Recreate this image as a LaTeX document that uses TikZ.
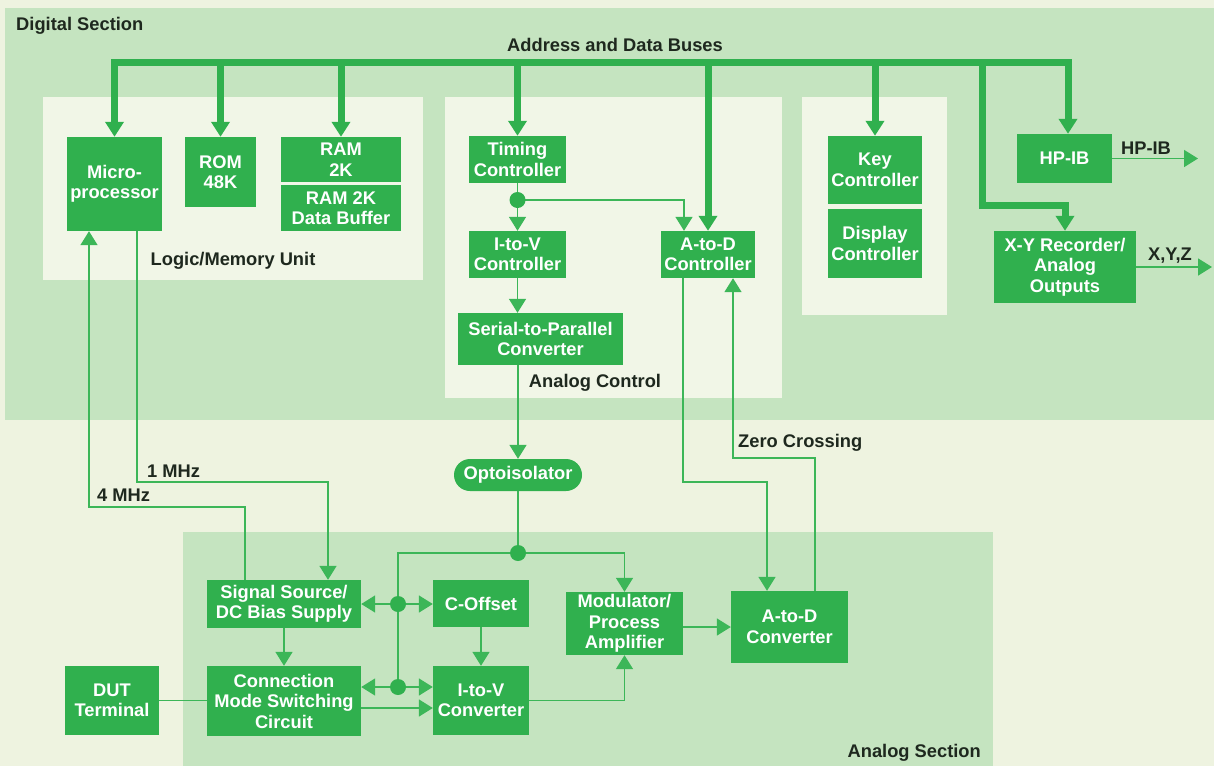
\documentclass[tikz,border=0pt]{standalone}
\usepackage{fontspec}
\setmainfont{Liberation Sans}
\usetikzlibrary{arrows.meta,calc}
\definecolor{pagebg}{RGB}{238,243,224}
\definecolor{secbg}{RGB}{197,228,192}
\definecolor{panelbg}{RGB}{241,246,231}
\definecolor{boxgreen}{RGB}{48,176,78}
\definecolor{linegreen}{RGB}{60,182,88}
\definecolor{labeltext}{RGB}{30,40,30}
\tikzset{
  box/.style={fill=boxgreen, text=white, font=\bfseries\fontsize{18.3}{20.5}\selectfont, align=center, inner sep=0pt},
  lbl/.style={text=labeltext, font=\bfseries\fontsize{18.3}{20.5}\selectfont, inner sep=0pt},
  wire/.style={draw=linegreen, line width=1.6pt},
  wirearr/.style={wire, -{Triangle[width=17pt,length=14pt]}},
  wiredbl/.style={wire, {Triangle[width=17pt,length=14pt]}-{Triangle[width=17pt,length=14pt]}},
  bus/.style={draw=boxgreen, line width=7pt},
  busarr/.style={bus, -{Triangle[width=18pt,length=15pt]}},
  jdot/.style={circle, fill=boxgreen, minimum size=16pt, inner sep=0pt},
}
\begin{document}
\begin{tikzpicture}[x=1pt,y=-1pt]
\fill[pagebg] (0,0) rectangle (1214,766);
\useasboundingbox (0,0) rectangle (1214,766);
% sections
\fill[secbg] (5,8) rectangle (1214,420);
\fill[panelbg] (43,97) rectangle (423,280);
\fill[panelbg] (445,97) rectangle (782,398);
\fill[panelbg] (802,97) rectangle (947,315);
\fill[secbg] (183,532) rectangle (993,766);
% labels
\node[lbl, anchor=west] (digl) at (16,26) {Digital Section};
\node[lbl] (busl) at (615,45) {Address and Data Buses};
\node[lbl] (lmul) at (233,261) {Logic/Memory Unit};
\node[lbl] (acl) at (595,383) {Analog Control};
\node[lbl, anchor=west] (onel) at (147,471) {1 MHz};
\node[lbl, anchor=west] (fourl) at (97,495) {4 MHz};
\node[lbl, anchor=west] (zcl) at (738,443) {Zero Crossing};
\node[lbl, anchor=east] (asl) at (981,753) {Analog Section};
\node[lbl] (hpibl) at (1146,148) {HP-IB};
\node[lbl] (xyzl) at (1170,256) {X,Y,Z};
% boxes
\node[box, minimum width=95pt, minimum height=94pt] (mp) at (114.5,184) {Micro-\\processor};
\node[box, minimum width=71pt, minimum height=70pt] (rom) at (220.5,172) {ROM\\48K};
\node[box, minimum width=120pt, minimum height=45pt] (ram) at (341,159.5) {RAM\\2K};
\node[box, minimum width=120pt, minimum height=46pt] (ramb) at (341,208) {RAM 2K\\Data Buffer};
\node[box, minimum width=97pt, minimum height=47pt] (tim) at (517.5,159.5) {Timing\\Controller};
\node[box, minimum width=97pt, minimum height=47pt] (itvc) at (517.5,254.5) {I-to-V\\Controller};
\node[box, minimum width=94pt, minimum height=47pt] (adcc) at (708,254.5) {A-to-D\\Controller};
\node[box, minimum width=165pt, minimum height=52pt] (s2p) at (540.5,339) {Serial-to-Parallel\\Converter};
\node[box, minimum width=94pt, minimum height=68pt] (key) at (875,170) {Key\\Controller};
\node[box, minimum width=94pt, minimum height=69pt] (disp) at (875,243.5) {Display\\Controller};
\node[box, minimum width=95pt, minimum height=49pt] (hpib) at (1064.5,158.5) {HP-IB};
\node[box, minimum width=142pt, minimum height=72pt] (xy) at (1065,267) {X-Y Recorder/\\Analog\\Outputs};
\node[box, rounded corners=16pt, minimum width=128pt, minimum height=32pt] (opto) at (518,475) {Optoisolator};
\node[box, minimum width=154pt, minimum height=48pt] (sig) at (284,604) {Signal Source/\\DC Bias Supply};
\node[box, minimum width=154pt, minimum height=70pt] (conn) at (284,701) {Connection\\Mode Switching\\Circuit};
\node[box, minimum width=94pt, minimum height=69pt] (dut) at (112,700.5) {DUT\\Terminal};
\node[box, minimum width=96pt, minimum height=47pt] (coff) at (481,603.5) {C-Offset};
\node[box, minimum width=96pt, minimum height=69pt] (itv) at (481,700.5) {I-to-V\\Converter};
\node[box, minimum width=117pt, minimum height=63pt] (mod) at (624.5,623.5) {Modulator/\\Process\\Amplifier};
\node[box, minimum width=117pt, minimum height=72pt] (adc) at (789.5,627) {A-to-D\\Converter};
% bus
\coordinate (bL) at (114.5,62);
\coordinate (bR) at (1068,62);
\draw[bus, {Triangle[width=18pt,length=15pt]}-{Triangle[width=18pt,length=15pt]}] (mp.north) -- (bL) -- (bR) -- (bR |- hpib.north);
\draw[busarr] (rom.north |- bL) -- (rom.north);
\draw[busarr] (ram.north |- bL) -- (ram.north);
\draw[busarr] (tim.north |- bL) -- (tim.north);
\draw[busarr] (adcc.north |- bL) -- (adcc.north);
\draw[busarr] (key.north |- bL) -- (key.north);
\coordinate (xyk) at (982,205);
\draw[busarr] (xyk |- bL) -- (xyk) -| (xy.north);
% digital wires
\coordinate (d1) at (517.5,200);
\draw[wire] (tim.south) -- (d1);
\draw[wirearr] (d1) -- (itvc.north);
\draw[wirearr] (d1) -| ($(adcc.north)+(-24,0)$);
\draw[wirearr] (itvc.south) -- (itvc.south |- s2p.north);
\draw[wirearr] (opto.north |- s2p.south) -- (opto.north);
\draw[wirearr] (hpib.east) -- (1198,158.5);
\draw[wirearr] (xy.east) -- (1212,267);
% clocks
\coordinate (c4) at (89,507);
\coordinate (c1) at (137,482);
\draw[wirearr] (sig.north -| 245,0) |- (c4) -- (mp.south -| c4);
\draw[wirearr] (mp.south -| c1) |- (328,482) -- (sig.north -| 328,0);
% analog wires
\coordinate (d2) at (518,553);
\coordinate (d3) at (398,604);
\coordinate (d4) at (398,687);
\draw[wire] (opto.south) -- (d2);
\draw[wire] (d2) -| (d4);
\draw[wirearr] (d2) -| (mod.north);
\draw[wiredbl] (sig.east |- d3) -- (coff.west |- d3);
\draw[wiredbl] (conn.east |- d4) -- (itv.west |- d4);
\draw[wirearr] (conn.east |- 0,708) -- (itv.west |- 0,708);
\draw[wirearr] (sig.south) -- (conn.north);
\draw[wire] (dut.east) -- (conn.west |- dut.east);
\draw[wirearr] (coff.south) -- (itv.north);
\draw[wirearr] (itv.east) -| (mod.south);
\draw[wirearr] (mod.east |- adc.west) -- (adc.west);
\coordinate (k1) at (683,482);
\draw[wirearr] (k1 |- adcc.south) -- (k1) -| ($(adc.north)+(-22.5,0)$);
\coordinate (k2) at (815,458);
\draw[wirearr] (k2 |- adc.north) -- (k2) -| ($(adcc.south)+(25,0)$);
% junction dots
\node[jdot] (j1) at (d1) {};
\node[jdot] (j2) at (d2) {};
\node[jdot] (j3) at (d3) {};
\node[jdot] (j4) at (d4) {};
\end{tikzpicture}
\end{document}
